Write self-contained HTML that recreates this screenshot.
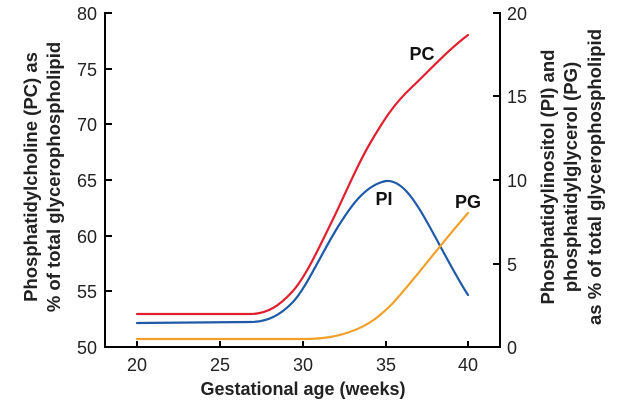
<!DOCTYPE html>
<html><head><meta charset="utf-8"><style>
html,body{margin:0;padding:0;background:#fff;}
svg{display:block;font-family:"Liberation Sans",sans-serif;}
</style></head><body>
<svg width="631" height="408" viewBox="0 0 631 408">
<g stroke="#000" stroke-width="2" fill="none">
<path d="M105,12 V347 H500 V12"/>
<path d="M105,13 H112 M105,69 H112 M105,124 H112 M105,180 H112 M105,236 H112 M105,291 H112"/>
<path d="M500,13 H493 M500,96 H493 M500,180 H493 M500,264 H493"/>
<path d="M137,347 V341 M220,347 V341 M303,347 V341 M386,347 V341 M468,347 V341"/>
</g>
<g font-size="18" fill="#222" text-anchor="end">
<text x="97" y="20">80</text><text x="97" y="76">75</text><text x="97" y="131">70</text>
<text x="97" y="187">65</text><text x="97" y="243">60</text><text x="97" y="298">55</text><text x="97" y="354">50</text>
</g>
<g font-size="18" fill="#222" text-anchor="start">
<text x="507" y="20">20</text><text x="507" y="103">15</text><text x="507" y="187">10</text>
<text x="507" y="271">5</text><text x="507" y="354">0</text>
</g>
<g font-size="18" fill="#222" text-anchor="middle">
<text x="137" y="371">20</text><text x="220" y="371">25</text><text x="303" y="371">30</text>
<text x="386" y="371">35</text><text x="468" y="371">40</text>
</g>
<text x="303" y="395" font-size="18" font-weight="bold" text-anchor="middle" fill="#222">Gestational age (weeks)</text>
<g font-size="18.5" font-weight="bold" fill="#222" text-anchor="middle">
<text transform="translate(37,177) rotate(-90)">Phosphatidylcholine (PC) as</text>
<text transform="translate(60,177) rotate(-90)">% of total glycerophospholipid</text>
<text transform="translate(554,177) rotate(-90)">Phosphatidylinositol (PI) and</text>
<text transform="translate(577,177) rotate(-90)">phosphatidylglycerol (PG)</text>
<text transform="translate(601,177) rotate(-90)">as % of total glycerophospholipid</text>
</g>
<g fill="none" stroke-width="2.2" stroke-linecap="round">
<path stroke="#e0202e" d="M137,314 L250,314 C268,314 280,305 292,292 C305,278 318,250 336,213 C350,183 360,160 372,140 C385,118 395,103 411,88 C428,72 448,50 468,35"/>
<path stroke="#1f5aa8" d="M137,323 L250,322 C268,322 280,315 292,303 C305,290 318,260 336,230 C350,207 365,185 386,181 C400,180 412,195 427,222 C440,245 455,275 468,295"/>
<path stroke="#f2a02c" d="M137,339 L303,339 C325,339 340,336 355,330 C370,324 380,316 392,304 C410,285 440,245 468,213"/>
</g>
<g font-size="18" font-weight="bold" fill="#111" text-anchor="middle">
<text x="422" y="60">PC</text><text x="384" y="205">PI</text><text x="468" y="208">PG</text>
</g>
</svg>
</body></html>
